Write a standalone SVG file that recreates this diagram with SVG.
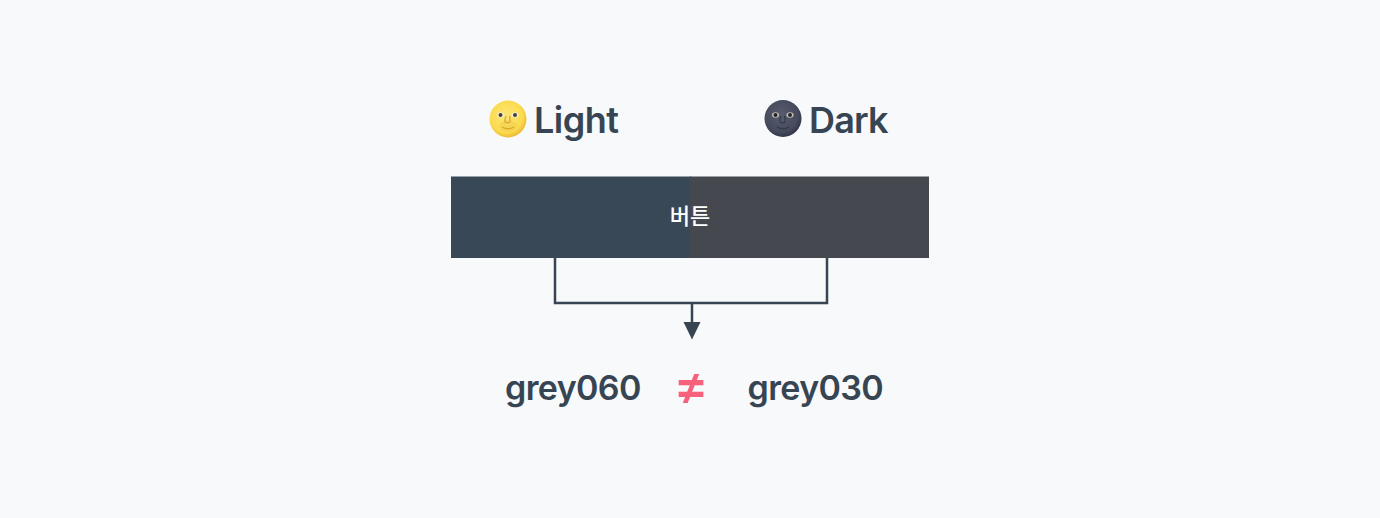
<svg xmlns="http://www.w3.org/2000/svg" width="1380" height="518" viewBox="0 0 1380 518">
<style>
.h{font-family:Inter,"Liberation Sans",sans-serif;font-weight:600;fill:#374553}
.h1{font-size:36px;letter-spacing:-.5px}.h2{font-size:34px;letter-spacing:-.62px}
.c{fill:none;stroke:#374553;stroke-width:2.5}
</style>
<defs>
<radialGradient id="y" cx=".45" cy=".42" r=".62"><stop offset="0" stop-color="#fde676"/><stop offset=".72" stop-color="#fbdb4e"/><stop offset="1" stop-color="#e8b02c"/></radialGradient>
<radialGradient id="d" cx=".45" cy=".42" r=".62"><stop offset="0" stop-color="#585d70"/><stop offset=".72" stop-color="#454a5c"/><stop offset="1" stop-color="#2d3042"/></radialGradient>
</defs>
<rect width="1380" height="518" fill="#f7f9fb"/>
<g id="light">
<circle cx="508" cy="119" r="18.5" fill="url(#y)"/>
<ellipse cx="508" cy="126" rx="9" ry="6" fill="#f3cf4e" opacity=".6"/>
<ellipse cx="500.500" cy="115" rx="3.500" ry="2.800" fill="#f4eed2"/><circle cx="500.500" cy="115" r="2" fill="#4a4030"/>
<ellipse cx="515" cy="115" rx="3.500" ry="2.800" fill="#f4eed2"/><circle cx="515" cy="115" r="2" fill="#4a4030"/>
<path d="M506 116q-1.500 4-1 6q3 1.500 5 0q.5-2-.5-6M502 127q6 3.500 12 0" fill="none" stroke="#dba92f" stroke-width="1.300"/>
<text class="h h1" x="534" y="133">Light</text>
</g>
<g id="dark">
<circle cx="783" cy="118.500" r="18.500" fill="url(#d)"/>
<ellipse cx="775.500" cy="115" rx="3.500" ry="2.800" fill="#c9c3b4"/><circle cx="775.500" cy="115" r="2" fill="#24242a"/>
<ellipse cx="790" cy="115" rx="3.500" ry="2.800" fill="#c9c3b4"/><circle cx="790" cy="115" r="2" fill="#24242a"/>
<path d="M781 116q-1.500 4-1 6q3 1.500 5 0q.5-2-.5-6M777 127q6 3.500 12 0" fill="none" stroke="#363a4c" stroke-width="1.300"/>
<text class="h h1" x="809" y="133" style="letter-spacing:-.8px">Dark</text>
</g>
<g id="button">
<rect x="451" y="176.500" width="240" height="81.500" fill="#394857"/>
<rect x="690" y="176.500" width="239" height="81.500" fill="#45494f"/>
<text x="690" y="224" text-anchor="middle" font-family="'Noto Sans CJK KR',sans-serif" font-size="22" font-weight="500" fill="#fff">버튼</text>
</g>
<g id="connectors">
<path class="c" d="M555 258V303H827V258M692 303V324"/>
<polygon points="683.500,322 700.500,322 692,339.500" fill="#374553"/>
</g>
<g id="grey060"><text class="h h2" x="505" y="400">grey060</text></g>
<g id="neq"><text x="691" y="404" text-anchor="middle" font-family="Inter,'Liberation Sans',sans-serif" font-size="54" font-weight="500" fill="#f8617c">≠</text></g>
<g id="grey030"><text class="h h2" x="747.500" y="400">grey030</text></g>
</svg>
